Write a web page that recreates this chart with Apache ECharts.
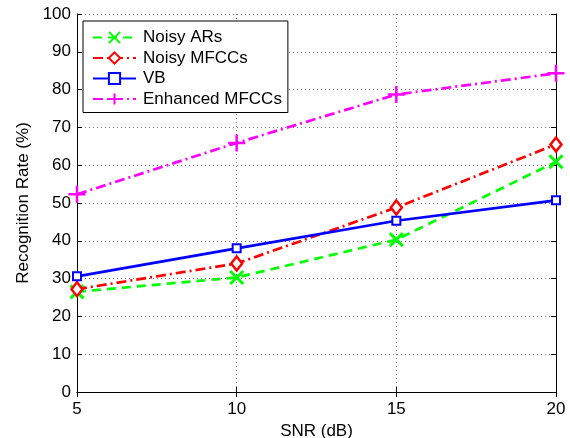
<!DOCTYPE html>
<html>
<head>
<meta charset="utf-8">
<script src="https://cdn.jsdelivr.net/npm/echarts@6/dist/echarts.min.js"></script>
<style>
  html, body { margin: 0; padding: 0; background: #fff; }
  #chart { width: 570px; height: 438px; }
</style>
</head>
<body>
<div id="chart"></div>
<script>
var snr = [5, 10, 15, 20];
var noisyARs = [26.5, 30.3, 40.3, 60.9];
var noisyMFCCs = [27.2, 34.0, 48.8, 65.5];
var vb = [30.6, 38.0, 45.3, 50.7];
var enhancedMFCCs = [52.3, 65.9, 78.7, 84.3];

function pairs(ys) {
  return snr.map(function (x, i) { return [x, ys[i]]; });
}

var chart = echarts.init(document.getElementById('chart'));
var font = 'Liberation Sans, Arial, sans-serif';
var xMark = 'path://M0,0L10,10M10,0L0,10';
var plusMark = 'path://M5,0L5,10M0,5L10,5';

var option = {
  backgroundColor: '#fff',
  animation: false,
  grid: { left: 77, right: 14, top: 14, bottom: 46, containLabel: false, outerBoundsMode: 'none' },
  legend: {
    left: 83, top: 21,
    orient: 'vertical',
    backgroundColor: '#fff',
    borderColor: '#000',
    borderWidth: 1,
    borderRadius: 0,
    padding: [8, 6, 5, 9],
    itemWidth: 43,
    itemHeight: 14,
    itemGap: 3.5,
    textStyle: { fontFamily: font, fontSize: 17, color: '#000', padding: [0, 0, 0, 2] },
    data: ['Noisy ARs', 'Noisy MFCCs', 'VB', 'Enhanced MFCCs']
  },
  xAxis: [{
    type: 'value', min: 5, max: 20, interval: 5,
    name: 'SNR (dB)', nameLocation: 'middle', nameGap: 26,
    nameTextStyle: { fontFamily: font, fontSize: 17, color: '#000' },
    axisLine: { lineStyle: { color: '#000', width: 1 } },
    axisTick: { inside: true, length: 5, lineStyle: { color: '#000' } },
    axisLabel: { fontFamily: font, fontSize: 17, color: '#000', margin: 9 },
    splitLine: { show: true, lineStyle: { color: '#777', type: [1, 3], width: 1 } }
  }, {
    type: 'value', min: 5, max: 20, interval: 5, position: 'top',
    axisLine: { lineStyle: { color: '#000', width: 1 } },
    axisTick: { inside: true, length: 5, lineStyle: { color: '#000' } },
    axisLabel: { show: false },
    splitLine: { show: false }
  }],
  yAxis: [{
    type: 'value', min: 0, max: 100, interval: 10,
    name: 'Recognition Rate (%)', nameLocation: 'middle', nameGap: 45,
    nameTextStyle: { fontFamily: font, fontSize: 17, color: '#000' },
    axisLine: { show: true, lineStyle: { color: '#000', width: 1 } },
    axisTick: { show: true, inside: true, length: 5, lineStyle: { color: '#000' } },
    axisLabel: { fontFamily: font, fontSize: 17, color: '#000', margin: 6 },
    splitLine: { show: true, lineStyle: { color: '#777', type: [1, 3], width: 1 } }
  }, {
    type: 'value', min: 0, max: 100, interval: 10, position: 'right',
    axisLine: { show: true, lineStyle: { color: '#000', width: 1 } },
    axisTick: { show: true, inside: true, length: 5, lineStyle: { color: '#000' } },
    axisLabel: { show: false },
    splitLine: { show: false }
  }],
  series: [{
    name: 'Noisy ARs', type: 'line', data: pairs(noisyARs),
    symbol: xMark, symbolSize: 13,
    lineStyle: { color: '#00ff00', width: 2.7, type: [9, 6] },
    itemStyle: { color: 'rgba(0,0,0,0)', borderColor: '#00ff00', borderWidth: 3 },
    z: 3
  }, {
    name: 'Noisy MFCCs', type: 'line', data: pairs(noisyMFCCs),
    symbol: 'diamond', symbolSize: [11, 14],
    lineStyle: { color: '#ff0000', width: 2.7, type: [10, 4, 2, 4] },
    itemStyle: { color: '#fff', borderColor: '#ff0000', borderWidth: 2.5 },
    z: 4
  }, {
    name: 'VB', type: 'line', data: pairs(vb),
    symbol: 'rect', symbolSize: 8,
    lineStyle: { color: '#0000ff', width: 2.7, type: 'solid' },
    itemStyle: { color: '#fff', borderColor: '#0000ff', borderWidth: 2 },
    z: 5
  }, {
    name: 'Enhanced MFCCs', type: 'line', data: pairs(enhancedMFCCs),
    symbol: plusMark, symbolSize: 17,
    lineStyle: { color: '#ff00ff', width: 2.7, type: [10, 4, 2, 4] },
    itemStyle: { color: 'rgba(0,0,0,0)', borderColor: '#ff00ff', borderWidth: 2.5 },
    z: 3
  }]
};
chart.setOption(option);
</script>
</body>
</html>
